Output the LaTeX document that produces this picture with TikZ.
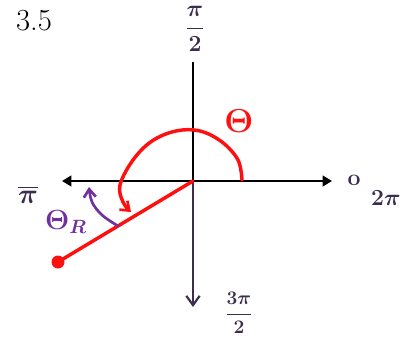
\documentclass[tikz,border=0pt]{standalone}
\usepackage{amsmath,bm}
\usetikzlibrary{arrows.meta}
\definecolor{ink}{HTML}{3A2D4F}
\definecolor{redink}{HTML}{FF1010}
\definecolor{purpink}{HTML}{7030A0}
\tikzset{
  axis/.style={line width=1.6pt, black},
  lbl/.style={text=ink, inner sep=0pt},
  redpen/.style={redink, line width=2.6pt, line cap=round},
  purpen/.style={purpink, line width=2pt, line cap=round},
}
\begin{document}
\begin{tikzpicture}[x=0.75pt,y=-0.75pt]
\useasboundingbox (0,0) rectangle (420,340);
% axes
\coordinate (O) at (193,181);
\coordinate (T) at (193,62);
\coordinate (B) at (193,307);
\coordinate (L) at (62,181);
\coordinate (R) at (332,181);
\draw[axis] (T) -- (O);
\draw[axis, -{Straight Barb[length=7pt,width=10pt,line width=1.6pt]}, ink] (O) -- (B);
\draw[axis, -{Triangle[length=7pt,width=8pt]}] (O) -- (L);
\draw[axis, -{Triangle[length=7pt,width=8pt]}] (O) -- (R);
% labels
\node[inner sep=0pt] (num) at (34,21) {\fontsize{23}{28}\selectfont 3.5};
\node[lbl] (top) at (195,29) {\fontsize{17}{20}\selectfont $\displaystyle\bm{\frac{\pi}{2}}$};
\node[lbl] (bot) at (239,313) {\fontsize{15}{18}\selectfont $\displaystyle\bm{\frac{3\pi}{2}}$};
\node[lbl] (pi) at (28,195) {\fontsize{20}{20}\selectfont $\overline{\bm{\pi}}$};
\node[lbl] (zero) at (354,180) {\fontsize{16}{16}\selectfont $\mathbf{o}$};
\node[lbl] (twopi) at (386,198) {\fontsize{19}{19}\selectfont $\bm{2\pi}$};
% terminal side
\coordinate (P) at (58,262);
\draw[redpen] (O) -- (P);
\fill[redink] (P) circle[radius=6.5];
% theta arc
\draw[redpen, -{Straight Barb[length=6pt,width=9pt,line width=2pt]}]
  plot[smooth, tension=0.6] coordinates {(242,180) (238,160) (222,142) (200,131) (176,131) (152,141) (133,160) (120,185) (123,202) (131,212)};
\node[text=redink, inner sep=0pt] (th) at (239,121) {\fontsize{30}{30}\selectfont $\bm{\Theta}$};
% theta_R arc
\draw[purpen, -{Straight Barb[length=6pt,width=9pt,line width=2pt]}]
  plot[smooth, tension=0.6] coordinates {(118,226) (102,215) (92,202) (89,187)};
\node[text=purpink, inner sep=0pt] (thr) at (66,222) {\fontsize{20}{20}\selectfont $\bm{\Theta_{R}}$};
\end{tikzpicture}
\end{document}
